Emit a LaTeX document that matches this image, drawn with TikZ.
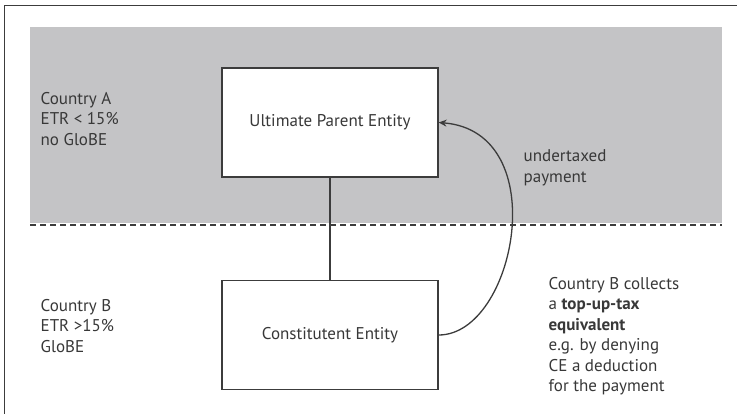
\documentclass[tikz,border=0pt]{standalone}
\usepackage{fontspec}
\setmainfont{PT Sans}
\usetikzlibrary{arrows.meta}
\definecolor{bandgray}{HTML}{C4C4C6}
\definecolor{linegray}{HTML}{3C3C3C}
\definecolor{textgray}{HTML}{383838}
\begin{document}
\begin{tikzpicture}[x=1pt,y=-1pt, line width=1.3pt, draw=linegray,
entity node/.style={rectangle,draw=linegray,fill=white,minimum width=216pt,minimum height=109pt,inner sep=0pt,text=textgray},
label node/.style={anchor=west,align=left,inner sep=0pt,text=textgray}]
\useasboundingbox (0,0) rectangle (737,414);
%frame and band
\fill[bandgray] (30,27) rectangle (722,223);
\draw[linegray,line width=1.2pt] (4.5,414) -- (4.5,5.5) -- (737,5.5);
\draw[linegray,line width=1.4pt,dash pattern=on 6pt off 4pt] (30,225) -- (722,225);
\begin{scope}[every node/.style={font=\fontsize{17}{20.5}\selectfont}]
\node[entity node] (upe) at (330,122.5) {Ultimate Parent Entity};%1
\node[entity node] (ce) at (330,335) {Constitutent Entity};%2
\node[label node] (cA) at (40,119) {Country A\\ETR < 15\%\\no GloBE};%3
\node[label node] (cB) at (40,326) {Country B\\ETR >15\%\\GloBE};%4
\node[label node] (pay) at (523,168) {undertaxed\\payment};%5
\node[label node] (coll) at (548,336) {Country B collects\\a \textbf{top-up-tax}\\\textbf{equivalent}\\e.g. by denying\\CE a deduction\\for the payment};%6
\end{scope}
\begin{scope}[every path/.style={draw=linegray,line width=1.3pt}]
\draw (upe) -- (ce);
\draw[-{Stealth[length=8pt,width=7pt]}] (ce.east) .. controls +(77,0) and +(116,9) .. (upe.east);
\end{scope}
\end{tikzpicture}
\end{document}
